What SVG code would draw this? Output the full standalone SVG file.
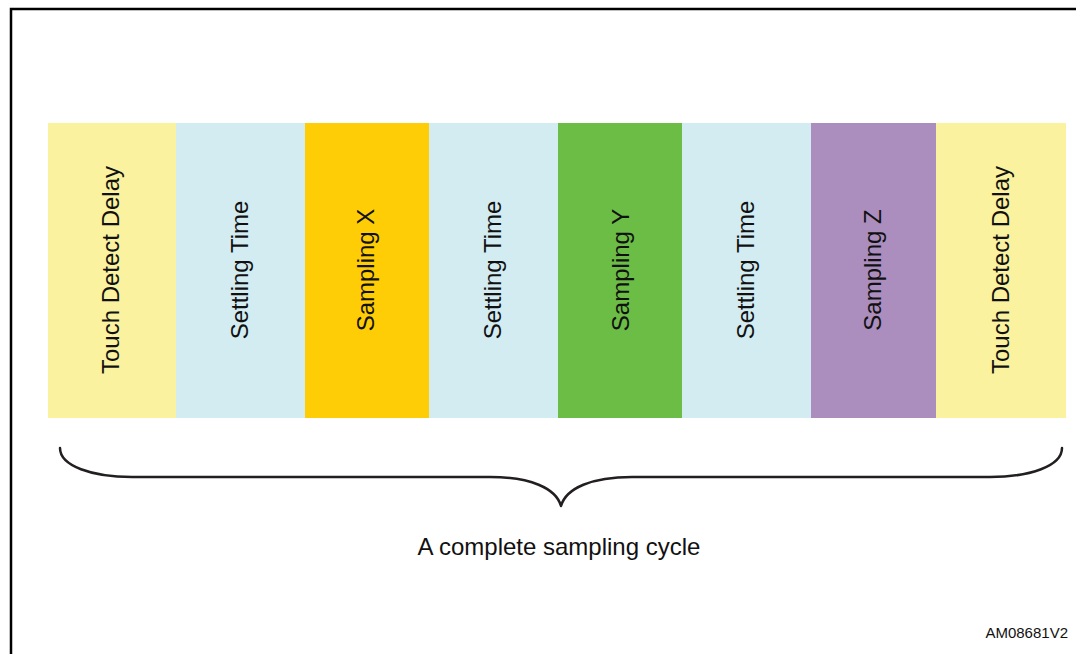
<svg xmlns="http://www.w3.org/2000/svg" width="1076" height="654" viewBox="0 0 1076 654">
<style>
  .lbl { font-family: "Liberation Sans", Arial, sans-serif; font-size: 24px; fill: #111; text-anchor: middle; }
  .tdd { fill: #FAF29E; }
  .set { fill: #D3ECF2; }
  .sx { fill: #FFCD05; }
  .sy { fill: #6BBD45; }
  .sz { fill: #AB8DBE; }
  .frame { stroke: #000; stroke-width: 2.5; fill: none; }
  .brace { stroke: #231F20; stroke-width: 2.5; fill: none; stroke-linecap: round; stroke-linejoin: round; }
</style>
<rect width="1076" height="654" fill="#fff"/>
<path class="frame" d="M11,654 L11,9 L1076,9"/>

<g id="n1"><rect class="tdd" x="48" y="123" width="128" height="295"/><text class="lbl" transform="translate(119,270) rotate(-90)">Touch Detect Delay</text></g>
<g id="n2"><rect class="set" x="176" y="123" width="129" height="295"/><text class="lbl" transform="translate(248,270) rotate(-90)">Settling Time</text></g>
<g id="n3"><rect class="sx" x="305" y="123" width="124" height="295"/><text class="lbl" transform="translate(374,270) rotate(-90)">Sampling X</text></g>
<g id="n4"><rect class="set" x="429" y="123" width="129" height="295"/><text class="lbl" transform="translate(501,270) rotate(-90)">Settling Time</text></g>
<g id="n5"><rect class="sy" x="558" y="123" width="124" height="295"/><text class="lbl" transform="translate(629,270) rotate(-90)">Sampling Y</text></g>
<g id="n6"><rect class="set" x="682" y="123" width="129" height="295"/><text class="lbl" transform="translate(754,270) rotate(-90)">Settling Time</text></g>
<g id="n7"><rect class="sz" x="811" y="123" width="125" height="295"/><text class="lbl" transform="translate(881,270) rotate(-90)">Sampling Z</text></g>
<g id="n8"><rect class="tdd" x="936" y="123" width="130" height="295"/><text class="lbl" transform="translate(1009,270) rotate(-90)">Touch Detect Delay</text></g>

<g id="connectors">
  <path class="brace" d="M60,448 C60,466 92,477 132,477 L490,477 C530,477 556,488 561,506 C566,488 592,477 632,477 L990,477 C1030,477 1062,466 1062,448"/>
</g>

<g id="caption"><text class="lbl" x="559" y="555">A complete sampling cycle</text></g>
<g id="ref"><text x="1068" y="638" font-family="Liberation Sans, Arial, sans-serif" font-size="15" fill="#111" text-anchor="end">AM08681V2</text></g>
</svg>
